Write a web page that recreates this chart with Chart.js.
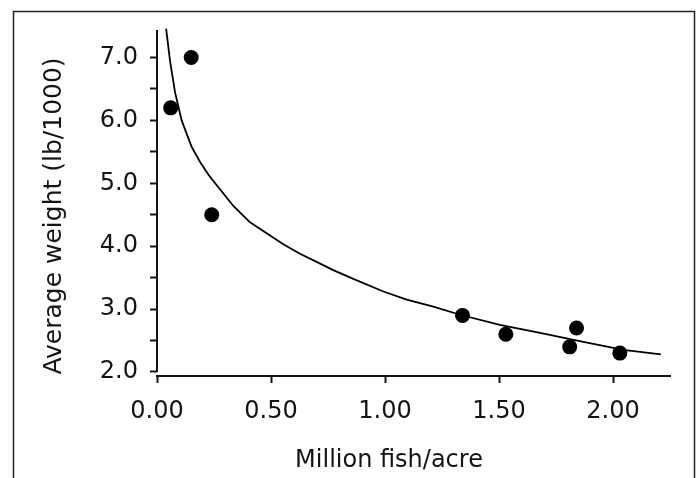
<!DOCTYPE html>
<html>
<head>
<meta charset="utf-8">
<script src="https://cdn.jsdelivr.net/npm/chart.js@4.4.1/dist/chart.umd.min.js"></script>
<style>
  html, body { margin: 0; padding: 0; background: #fff; }
</style>
</head>
<body>
<canvas id="fishChart" width="700" height="478"></canvas>
<script>
// observed ponds
const stockDensity = [0.06, 0.15, 0.24, 1.34, 1.53, 1.81, 1.84, 2.03];
const avgWeight    = [6.2, 7.0, 4.5, 2.9, 2.6, 2.4, 2.7, 2.3];

// fitted curve
const fitDensity = [0.040, 0.057, 0.079, 0.108, 0.152, 0.189, 0.225, 0.262, 0.335, 0.408,
                    0.554, 0.627, 0.700, 0.773, 0.861, 0.993, 1.095, 1.212, 1.329, 1.504,
                    1.680, 1.870, 2.045, 2.210];
const fitWeight  = [7.46, 6.95, 6.45, 6.00, 5.58, 5.34, 5.14, 4.97, 4.64, 4.38,
                    4.03, 3.88, 3.75, 3.62, 3.48, 3.28, 3.15, 3.04, 2.91, 2.75,
                    2.62, 2.48, 2.35, 2.28];

const xTicks = [0, 0.5, 1.0, 1.5, 2.0];
const yTicks = [2.0, 2.5, 3.0, 3.5, 4.0, 4.5, 5.0, 5.5, 6.0, 6.5, 7.0];

const xTitle = 'Million fish/acre';
const yTitle = 'Average weight (lb/1000)';

const ink = '#141414';
Chart.defaults.font.family = '"DejaVu Sans", sans-serif';
Chart.defaults.font.size = 24;
Chart.defaults.color = ink;

// frame, y axis line (stops at 2.0 like the original) and axis titles
const decorations = {
  id: 'decorations',
  beforeDraw(chart) {
    const c = chart.ctx;
    c.save();
    c.fillStyle = '#fff';
    c.fillRect(0, 0, chart.width, chart.height);
    c.strokeStyle = '#222';
    c.lineWidth = 1.5;
    c.strokeRect(13.5, 11.5, 681, 520);
    c.restore();
  },
  afterDraw(chart) {
    const c = chart.ctx;
    const area = chart.chartArea;
    const y = chart.scales.y;
    c.save();
    c.strokeStyle = ink;
    c.lineWidth = 2;
    c.beginPath();
    c.moveTo(area.left, y.getPixelForValue(yTicks[0]));
    c.lineTo(area.left, area.top + 2);
    c.stroke();

    c.fillStyle = ink;
    c.font = '24px "DejaVu Sans", sans-serif';
    c.textAlign = 'center';
    c.textBaseline = 'alphabetic';
    c.fillText(xTitle, area.left + 232, area.bottom + 91);

    c.font = '25px "DejaVu Sans", sans-serif';
    c.translate(61, 216);
    c.rotate(-Math.PI / 2);
    c.fillText(yTitle, 0, 0);
    c.restore();
  }
};

const ctx = document.getElementById('fishChart').getContext('2d');

const fishChart = new Chart(ctx, {
  type: 'scatter',
  data: {
    datasets: [
      {
        label: 'fit',
        type: 'line',
        data: fitDensity.map((x, i) => ({ x: x, y: fitWeight[i] })),
        borderColor: '#000',
        borderWidth: 1.8,
        pointRadius: 0,
        tension: 0,
        fill: false,
        clip: false
      },
      {
        label: 'ponds',
        data: stockDensity.map((x, i) => ({ x: x, y: avgWeight[i] })),
        backgroundColor: '#000',
        borderWidth: 0,
        pointRadius: 7.5
      }
    ]
  },
  options: {
    responsive: false,
    animation: false,
    layout: { padding: { left: 0, right: 30, top: 28, bottom: 0 } },
    plugins: {
      legend: { display: false },
      tooltip: { enabled: false }
    },
    scales: {
      x: {
        type: 'linear',
        min: 0,
        max: 2.25,
        afterBuildTicks: s => { s.ticks = xTicks.map(v => ({ value: v })); },
        afterFit: s => { s.height = 102; },
        ticks: {
          padding: 14,
          callback: v => v.toFixed(2)
        },
        grid: { drawOnChartArea: false, tickLength: 7, tickWidth: 2, tickColor: ink },
        border: { display: true, color: ink, width: 2 }
      },
      y: {
        type: 'linear',
        min: 1.936,
        max: 7.47,
        afterBuildTicks: s => { s.ticks = yTicks.map(v => ({ value: v })); },
        afterFit: s => { s.width = 157; },
        ticks: {
          padding: 12,
          callback: v => (Math.abs(v % 1) < 1e-9 ? v.toFixed(1) : '')
        },
        grid: { drawOnChartArea: false, tickLength: 7, tickWidth: 2, tickColor: ink },
        border: { display: false }
      }
    }
  },
  plugins: [decorations]
});
</script>
</body>
</html>
